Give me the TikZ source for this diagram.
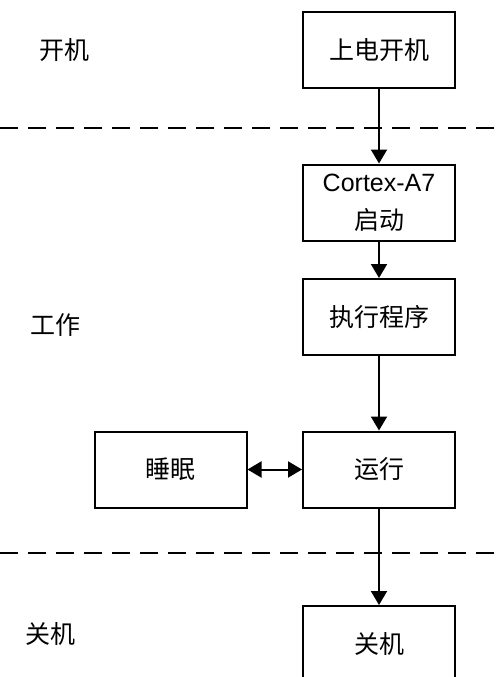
\documentclass[tikz,border=0pt]{standalone}
\usepackage{fontspec}
\setmainfont{Liberation Sans}
\newfontfamily\cjk{Noto Sans CJK SC}
\usetikzlibrary{arrows.meta}
\begin{document}
\begin{tikzpicture}[x=1pt,y=-1pt,
  box/.style={draw,line width=2pt,minimum width=152pt,minimum height=76pt,inner sep=0pt,align=center,font=\fontsize{25}{30}\selectfont\cjk},
  lbl/.style={font=\fontsize{25}{30}\selectfont\cjk},
  arr/.style={line width=2pt,-{Triangle[length=14pt,width=16pt]}},
  sep/.style={line width=2pt,dash pattern=on 18pt off 10pt}]
\useasboundingbox (0,0) rectangle (502,677);
\begin{scope}
\clip (0,0) rectangle (502,677);
\node[box] (power) at (379,50) {上电开机};
\node[box] (boot) at (379,202.5) {{\fontsize{25}{30}\selectfont\rmfamily Cortex-A7}\\[8pt]启动};
\node[box] (exec) at (379,317) {执行程序};
\node[box] (run) at (379,469.5) {运行};
\node[box] (sleep) at (170.5,469.5) {睡眠};
\node[box] (off) at (379,644) {关机};
\coordinate (d1a) at (0,128);
\coordinate (d1b) at (510,128);
\coordinate (d2a) at (0,553);
\coordinate (d2b) at (510,553);
\draw[sep] (d1a) -- (d1b);
\draw[sep] (d2a) -- (d2b);
\draw[arr] (power) -- (boot);
\draw[arr] (boot) -- (exec);
\draw[arr] (exec) -- (run);
\draw[arr] (run) -- (off);
\draw[line width=2pt,{Triangle[length=14pt,width=16pt]}-{Triangle[length=14pt,width=16pt]}] (sleep) -- (run);
\node[lbl] (l1) at (64,50) {开机};
\node[lbl] (l2) at (55,325) {工作};
\node[lbl] (l3) at (50,634) {关机};
\end{scope}
\end{tikzpicture}
\end{document}
